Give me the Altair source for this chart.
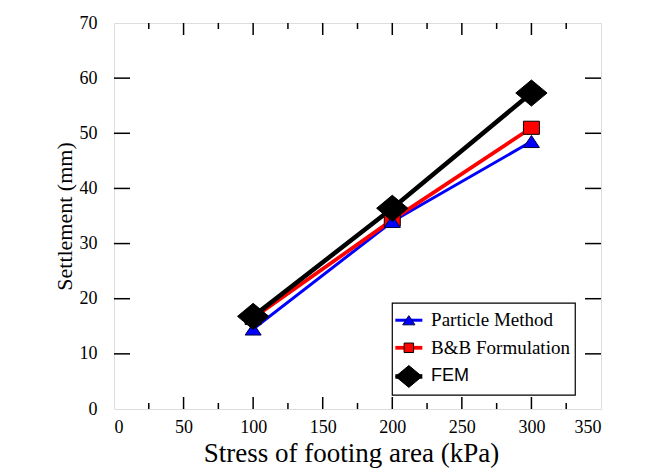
import altair as alt
import pandas as pd

# ---- data ----
stress = [100, 200, 300]
particle = [14.5, 34.0, 48.5]
bb = [16.5, 34.3, 51.0]
fem = [16.8, 36.4, 57.3]
series = ["Particle Method", "B&B Formulation", "FEM"]
colors = ["#0000ff", "#ff0000", "#000000"]

x_major = [50, 100, 150, 200, 250, 300]
x_minor = [25, 75, 125, 175, 225, 275, 325]
y_major = [10, 20, 30, 40, 50, 60]
x_labels = [0, 50, 100, 150, 200, 250, 300, 350]
y_labels = [0, 10, 20, 30, 40, 50, 60, 70]

W, H = 487, 386

df = pd.DataFrame({
    "stress": stress * 3,
    "settle": particle + bb + fem,
    "series": [series[0]] * 3 + [series[1]] * 3 + [series[2]] * 3,
})

xs = alt.Scale(domain=[0, 350], nice=False, zero=False)
ys = alt.Scale(domain=[0, 70], nice=False, zero=False)

serif = "'Liberation Serif', 'Times New Roman', Times, serif"
sans = "'Liberation Sans', Arial, sans-serif"

X = alt.X("stress:Q", scale=xs,
          axis=alt.Axis(values=x_labels, ticks=False, domain=False, grid=False,
                        labelFont=serif, labelFontSize=18, labelColor="black",
                        labelPadding=9, title="Stress of footing area (kPa)",
                        titleFont=serif, titleFontSize=27, titleFontWeight="normal",
                        titleColor="black", titlePadding=4, titleX=237))
Y = alt.Y("settle:Q", scale=ys,
          axis=alt.Axis(values=y_labels, ticks=False, domain=False, grid=False,
                        labelFont=serif, labelFontSize=18, labelColor="black",
                        labelPadding=17, title="Settlement (mm)",
                        titleFont=serif, titleFontSize=22, titleFontWeight="normal",
                        titleColor="black", titlePadding=3))

lines = alt.Chart(df).mark_line().encode(
    x=X, y=Y,
    color=alt.Color("series:N", scale=alt.Scale(domain=series, range=colors), legend=None),
    strokeWidth=alt.StrokeWidth("series:N", scale=alt.Scale(domain=series, range=[3, 4.5, 4]), legend=None),
    order=alt.Order("stress:Q"),
)

tri_path = "M0,-0.75L1,0.75L-1,0.75Z"
sq_path = "M-1,-0.82L1,-0.82L1,0.82L-1,0.82Z"
dia_path = "M-1.2,0L0,-1L1.2,0L0,1Z"

def pts(name, shape, size, fill, stroke, sw):
    return alt.Chart(df).transform_filter(alt.datum.series == name).mark_point(
        shape=shape, size=size, filled=True, fill=fill, stroke=stroke,
        strokeWidth=sw, opacity=1
    ).encode(x=alt.X("stress:Q", scale=xs), y=alt.Y("settle:Q", scale=ys))

p_sq = pts(series[1], sq_path, 256, "#ff0000", "black", 1)
p_tri = pts(series[0], tri_path, 256, "#0000ff", "#000044", 1)
p_dia = pts(series[2], dia_path, 680, "black", "black", 1)

# ---- inward ticks ----
tx_major = pd.DataFrame({"v": x_major})
tx_minor = pd.DataFrame({"v": x_minor})
ty_major = pd.DataFrame({"v": y_major})

def xtick(d, length, top):
    if top:
        y1, y2 = 0, length
    else:
        y1, y2 = H, H - length
    return alt.Chart(d).mark_rule(color="black", strokeWidth=1.5).encode(
        x=alt.X("v:Q", scale=xs), y=alt.value(y1), y2=alt.value(y2))

def ytick(d, length, right):
    if right:
        x1, x2 = W, W - length
    else:
        x1, x2 = 0, length
    return alt.Chart(d).mark_rule(color="black", strokeWidth=1.5).encode(
        y=alt.Y("v:Q", scale=ys), x=alt.value(x1), x2=alt.value(x2))

ticks = [xtick(tx_major, 12, False), xtick(tx_minor, 6, False),
         xtick(tx_major, 12, True), xtick(tx_minor, 6, True),
         ytick(ty_major, 16, False), ytick(ty_major, 16, True)]

# ---- legend (drawn in data coordinates inside the plot) ----
leg_rows = [16.1, 11.1, 5.9]
leg = pd.DataFrame({"series": series, "y": leg_rows,
                    "x1": [202.2] * 3, "x2": [221.6] * 3, "xm": [211.9] * 3, "xt": [227.9] * 3})
box = alt.Chart(pd.DataFrame({"a": [200.0], "b": [331.5], "c": [2.5], "d": [19.2]})).mark_rect(
    fill="white", stroke="black", strokeWidth=1.2).encode(
    x=alt.X("a:Q", scale=xs), x2="b:Q", y=alt.Y("c:Q", scale=ys), y2="d:Q")
leg_lines = alt.Chart(leg).mark_rule().encode(
    x=alt.X("x1:Q", scale=xs), x2="x2:Q", y=alt.Y("y:Q", scale=ys),
    color=alt.Color("series:N", scale=alt.Scale(domain=series, range=colors), legend=None),
    strokeWidth=alt.StrokeWidth("series:N", scale=alt.Scale(domain=series, range=[4, 4.5, 4]), legend=None))

def legpt(i, shape, size, fill, stroke):
    return alt.Chart(leg.iloc[[i]]).mark_point(shape=shape, size=size, filled=True, fill=fill,
                                               stroke=stroke, strokeWidth=1, opacity=1).encode(
        x=alt.X("xm:Q", scale=xs), y=alt.Y("y:Q", scale=ys))

lp = [legpt(0, tri_path, 150, "#0000ff", "#000044"),
      legpt(1, "square", 90, "#ff0000", "black"),
      legpt(2, dia_path, 480, "black", "black")]

def legtxt(i, font, size):
    return alt.Chart(leg.iloc[[i]]).mark_text(align="left", baseline="middle", font=font,
                                              fontSize=size, color="black").encode(
        x=alt.X("xt:Q", scale=xs), y=alt.Y("y:Q", scale=ys), text="series:N")

lt = [legtxt(0, serif, 19), legtxt(1, serif, 19), legtxt(2, sans, 18)]

chart = alt.layer(lines, *ticks, p_sq, p_tri, p_dia, box, leg_lines, *lp, *lt).properties(
    width=W, height=H,
    autosize=alt.AutoSizeParams(type="none"),
    padding={"left": 106, "top": 15, "right": 40, "bottom": 60},
).configure_view(stroke="black", strokeWidth=2.7).configure(background="white", font=serif)

chart.save("out.html", embed_options={"renderer": "svg", "actions": False})
